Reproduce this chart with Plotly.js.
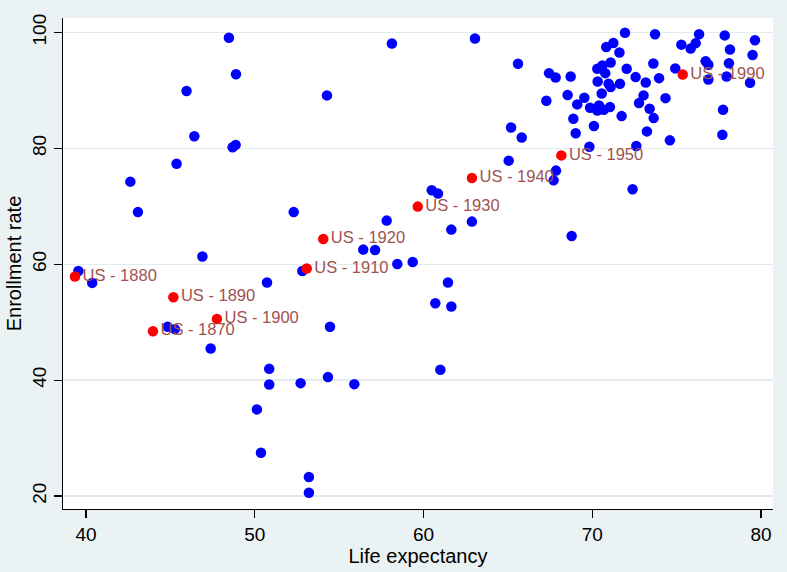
<!DOCTYPE html>
<html>
<head>
<meta charset="utf-8">
<script src="https://cdn.plot.ly/plotly-3.0.1.min.js"></script>
<style>html,body{margin:0;padding:0;background:#eaf2f3;}#chart{width:787px;height:572px;}</style>
</head>
<body>
<div id="chart"></div>
<script>
// Other countries (blue)
const lifeExp = [
  48.47, 48.89, 45.96, 46.42, 48.69, 48.87, 45.37, 42.63, 43.08, 52.31,
  46.90, 39.55, 40.37, 50.73, 52.82, 44.84, 45.27, 47.39, 50.86, 50.86,
  52.72, 54.34, 55.90, 61.00, 50.13, 50.37, 53.21, 53.21, 54.46, 54.28,
  58.13, 63.05, 65.05, 60.49, 60.86, 57.82, 62.87, 61.65, 56.43, 57.13,
  58.45, 59.36, 61.45, 60.70, 61.65, 65.60, 65.19, 65.82, 71.94, 73.72,
  76.33, 77.85, 79.64, 71.25, 70.83, 75.28, 76.13, 75.83, 78.16, 71.61,
  79.50, 71.09, 70.60, 70.30, 70.77, 73.62, 76.72, 76.88, 78.10, 72.04,
  74.92, 67.44, 67.83, 68.72, 72.57, 73.96, 76.88, 77.96, 79.35, 70.32,
  70.97, 71.09, 71.64, 73.17, 68.54, 69.53, 70.56, 69.11, 67.28, 73.04,
  72.77, 74.34, 69.87, 70.40, 70.30, 70.68, 71.05, 73.40, 73.64, 71.74,
  68.88, 70.10, 69.02, 73.24, 77.75, 77.71, 74.60, 72.61, 69.83, 67.85,
  67.71, 72.39, 68.78
];
const enroll = [
  99.08, 92.80, 89.90, 82.10, 80.20, 80.60, 77.36, 74.26, 69.00, 69.00,
  61.33, 58.85, 56.78, 56.84, 58.85, 49.20, 48.80, 45.46, 41.95, 39.25,
  39.48, 40.52, 39.31, 41.78, 34.95, 27.47, 23.28, 20.57, 49.20, 89.14,
  98.10, 98.97, 77.88, 72.76, 72.19, 67.53, 67.36, 65.98, 62.53, 62.47,
  60.05, 60.40, 56.84, 53.28, 52.70, 94.60, 83.60, 81.87, 99.95, 99.70,
  99.70, 99.50, 98.67, 98.20, 97.50, 97.90, 98.16, 97.24, 97.07, 96.55,
  96.10, 94.83, 94.30, 93.74, 92.98, 94.66, 95.05, 94.43, 94.70, 93.74,
  93.80, 92.98, 92.24, 92.41, 92.30, 92.12, 91.90, 92.41, 91.32, 91.55,
  91.15, 90.57, 91.15, 91.38, 89.20, 88.74, 89.48, 87.59, 88.22, 89.14,
  87.81, 88.67, 87.02, 87.40, 86.55, 86.67, 87.12, 86.84, 85.22, 85.57,
  85.12, 83.85, 82.60, 82.93, 86.67, 82.36, 81.38, 80.40, 80.29, 76.16,
  74.48, 72.93, 64.88
];
// United States by decade (red, labelled)
const usLabels = ["US - 1870", "US - 1880", "US - 1890", "US - 1900", "US - 1910",
                  "US - 1920", "US - 1930", "US - 1940", "US - 1950", "US - 1990"];
const usLifeExp = [43.97, 39.35, 45.18, 47.76, 53.08, 54.06, 59.66, 62.87, 68.17, 75.36];
const usEnroll  = [48.45, 57.90, 54.30, 50.57, 59.26, 64.36, 69.95, 74.88, 78.79, 92.76];

const xTicks = [40, 50, 60, 70, 80];
const yTicks = [20, 40, 60, 80, 100];

const FONT = "'Liberation Sans', Arial, Helvetica, sans-serif";

const traces = [
  {
    type: "scatter", mode: "markers",
    x: lifeExp, y: enroll,
    marker: {color: "#0000ff", size: 10.5},
    showlegend: false, hoverinfo: "x+y"
  },
  {
    type: "scatter", mode: "markers+text",
    x: usLifeExp, y: usEnroll, text: usLabels,
    textposition: "middle right",
    textfont: {family: FONT, size: 16.5, color: "#a0524f"},
    marker: {color: "#ff0000", size: 10.5},
    showlegend: false, hoverinfo: "text+x+y"
  }
];

const layout = {
  width: 787, height: 572,
  paper_bgcolor: "#eaf2f3",
  plot_bgcolor: "#ffffff",
  margin: {l: 63, r: 14, t: 18, b: 63, autoexpand: false},
  font: {family: FONT, color: "#000000"},
  showlegend: false,
  xaxis: {
    range: [38.64, 80.71],
    tickmode: "array", tickvals: xTicks, ticktext: xTicks.map(String),
    ticks: "outside", ticklen: 8, tickwidth: 1.2, tickcolor: "#000000",
    showline: true, linecolor: "#000000", linewidth: 1.3,
    showgrid: false, zeroline: false,
    tickfont: {family: FONT, size: 19, color: "#000000"},
    title: {text: "Life expectancy", font: {family: FONT, size: 20, color: "#000000"}, standoff: 0}
  },
  yaxis: {
    range: [17.76, 102.5],
    tickmode: "array", tickvals: yTicks, ticktext: yTicks.map(String),
    tickangle: -90,
    ticks: "outside", ticklen: 8, tickwidth: 1.2, tickcolor: "#000000",
    showline: true, linecolor: "#000000", linewidth: 1.3,
    showgrid: true, gridcolor: "#e3eced", gridwidth: 1.5, zeroline: false,
    tickfont: {family: FONT, size: 19, color: "#000000"},
    title: {text: "Enrollment rate", font: {family: FONT, size: 20, color: "#000000"}, standoff: 2}
  }
};

Plotly.newPlot("chart", traces, layout, {displayModeBar: false, staticPlot: true});
</script>
</body>
</html>
